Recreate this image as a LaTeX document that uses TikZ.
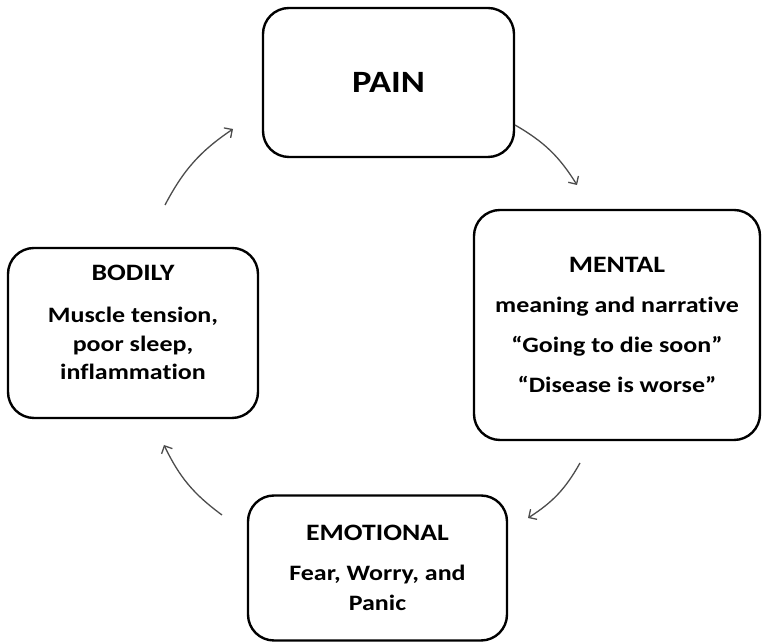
\documentclass[tikz,border=0pt]{standalone}
\usepackage{fontspec}
\setmainfont{Carlito}[FakeStretch=1.18, RawFeature=-liga]
\usetikzlibrary{arrows.meta}

\tikzset{
	box/.style = {draw, line width=2.4pt, rounded corners=26pt, align=center, inner sep=0pt},
	cycle/.style = {->, draw=black!70, line width=1.3pt, bend left=14}
}
\newcommand{\boxtitle}[1]{{\fontsize{23.5}{28}\selectfont #1}}

\begin{document}
\begin{tikzpicture}[x=1pt, y=1pt, >={Straight Barb[length=6pt,width=12pt]}]
	\useasboundingbox (0,0) rectangle (763,644);
	% the four boxes
	\node [box, minimum width=251pt, minimum height=149pt, font=\bfseries\fontsize{31}{40}\selectfont] (pain) at (388.5,561.5) {PAIN};
	\node [box, minimum width=286pt, minimum height=230pt, font=\bfseries\fontsize{22}{40}\selectfont] (mental) at (617,319)
		{\boxtitle{MENTAL}\\ meaning and narrative\\ ``Going to die soon''\\ ``Disease is worse''};
	\node [box, minimum width=259pt, minimum height=145pt, font=\bfseries\fontsize{22}{30}\selectfont] (emotional) at (377.5,76)
		{\boxtitle{EMOTIONAL}\\[10pt] Fear, Worry, and\\ Panic};
	\node [box, minimum width=250pt, minimum height=170pt, font=\bfseries\fontsize{22}{28.5}\selectfont] (bodily) at (133,311)
		{\boxtitle{BODILY}\\[13.5pt] Muscle tension,\\ poor sleep,\\ inflammation\\[-8pt]};
	% arrow ends
	\coordinate (b1) at (165,439);
	\coordinate (p1) at (233,515);
	\coordinate (p2) at (515,519);
	\coordinate (m1) at (577,459);
	\coordinate (m2) at (580,181);
	\coordinate (e1) at (528,126);
	\coordinate (e2) at (222,129);
	\coordinate (b2) at (164,199);
	\draw [cycle] (b1) to (p1);
	\draw [cycle] (p2) to (m1);
	\draw [cycle] (m2) to (e1);
	\draw [cycle] (e2) to (b2);
\end{tikzpicture}
\end{document}
